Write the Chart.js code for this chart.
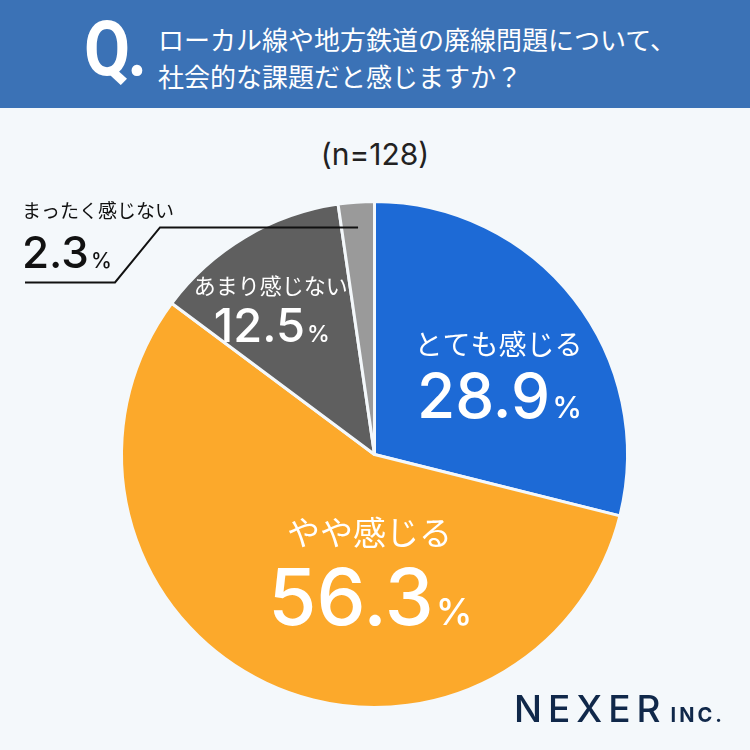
<!DOCTYPE html>
<html>
<head>
<meta charset="utf-8">
<script src="https://cdn.jsdelivr.net/npm/chart.js@4"></script>
<style>
  body { margin: 0; background: #f4f8fb; }
  #wrap { position: relative; width: 750px; height: 750px; background: #f4f8fb; overflow: hidden; font-family: "Noto Sans CJK JP", "Noto Sans", sans-serif; }
  #head { position: absolute; left: 0; top: 0; width: 750px; height: 108px; background: #3b72b6; }
  #q { position: absolute; left: 84px; top: 4px; color: #fff; font: bold 76px Roboto, sans-serif; letter-spacing: -3px; transform: scaleX(0.88); transform-origin: left top; }
  #title { position: absolute; left: 158px; top: 20px; color: #fff; font-size: 26px; line-height: 37px; }
  #n { position: absolute; left: 0; width: 750px; top: 136px; text-align: center; font: 30px Inter, sans-serif; color: #222; }
  #logo { position: absolute; left: 514px; top: 686px; color: #10284a; font: 500 37px Inter, sans-serif; letter-spacing: 6px; }
  #logo span { font-size: 20px; font-weight: bold; letter-spacing: 3px; margin-left: 4px; }
  canvas { position: absolute; left: 0; top: 0; }
</style>
</head>
<body>
<div id="wrap">
  <div id="head">
    <div id="q">Q.</div>
    <div id="title">ローカル線や地方鉄道の廃線問題について、<br>社会的な課題だと感じますか？</div>
  </div>
  <div id="n">(n=128)</div>
  <canvas id="pie" width="750" height="750"></canvas>
  <div id="logo">NEXER<span>INC.</span></div>
</div>
<script>
const labels = ['とても感じる', 'やや感じる', 'あまり感じない', 'まったく感じない'];
const values = [28.9, 56.3, 12.5, 2.3];
const colors = ['#1d6ad6', '#fca92b', '#5f5f5f', '#9a9a9a'];

// label placement relative to pie centre, in units of radius
const labelPos = [[0.49, -0.32], [-0.02, 0.45], [-0.41, -0.58], null];
const nameSize = [28, 33, 22, 19];
const numSize = [62, 78, 47, 44];

const labelPlugin = {
  id: 'sliceLabels',
  afterDatasetsDraw(chart) {
    const ctx = chart.ctx;
    const arcs = chart.getDatasetMeta(0).data;
    const cx = arcs[0].x, cy = arcs[0].y, r = arcs[0].outerRadius;
    ctx.save();
    ctx.textBaseline = 'alphabetic';
    values.forEach((v, i) => {
      const txt = v.toFixed(1);
      let x, y, col;
      if (labelPos[i]) {
        x = cx + labelPos[i][0] * r;
        y = cy + labelPos[i][1] * r;
        col = '#fff';
        ctx.textAlign = 'center';
      } else {
        x = 22; y = cy - 227; col = '#111';
        ctx.textAlign = 'left';
      }
      ctx.fillStyle = col;
      ctx.font = nameSize[i] + 'px "Noto Sans CJK JP"';
      if (labelPos[i]) ctx.fillText(labels[i], x, y - numSize[i] * 0.3);
      else ctx.fillText(labels[i], x, y - 10);
      ctx.font = '500 ' + numSize[i] + 'px Inter';
      const w1 = ctx.measureText(txt).width;
      ctx.font = '500 ' + Math.round(numSize[i] * 0.48) + 'px Inter';
      const w2 = ctx.measureText('%').width;
      const sx = labelPos[i] ? x - (w1 + w2) / 2 : x;
      const numY = labelPos[i] ? y + numSize[i] * 0.72 : y + 40;
      ctx.textAlign = 'left';
      ctx.font = '500 ' + numSize[i] + 'px Inter';
      ctx.fillText(txt, sx, numY);
      ctx.font = '500 ' + Math.round(numSize[i] * 0.48) + 'px Inter';
      ctx.fillText('%', sx + w1 + 2, numY);
    });
    // leader line for the small slice
    const a = arcs[3];
    const mid = (a.startAngle + a.endAngle) / 2;
    const ex = cx + Math.cos(mid) * r * 0.9;
    const ly = cy + Math.sin(mid) * r * 0.9;
    ctx.strokeStyle = '#111';
    ctx.lineWidth = 2;
    ctx.beginPath();
    ctx.moveTo(ex, ly);
    ctx.lineTo(160, ly);
    ctx.lineTo(115, ly + 55);
    ctx.lineTo(25, ly + 55);
    ctx.stroke();
    ctx.restore();
  }
};

new Chart(document.getElementById('pie'), {
  type: 'pie',
  data: {
    labels,
    datasets: [{
      data: values,
      backgroundColor: colors,
      borderColor: '#f4f8fb',
      borderWidth: 3
    }]
  },
  options: {
    responsive: false,
    animation: false,
    layout: { padding: { top: 200, bottom: 41, left: 120, right: 121 } },
    plugins: { legend: { display: false }, tooltip: { enabled: false } }
  },
  plugins: [labelPlugin]
});
</script>
</body>
</html>
